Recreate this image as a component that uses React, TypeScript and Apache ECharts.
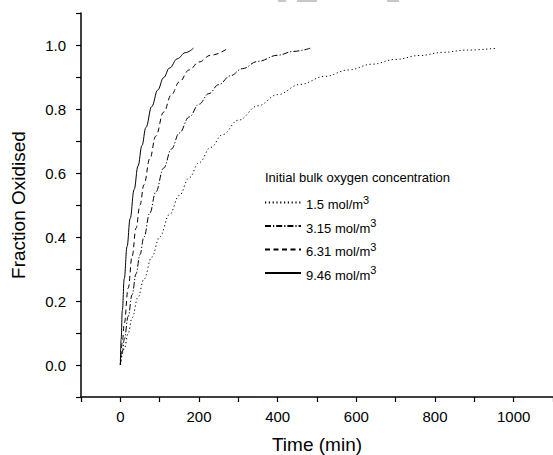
import React, { useEffect, useRef } from "react";
import * as echarts from "echarts";

const seriesNames = ["1.5", "3.15", "6.31", "9.46"];
const lineTypes: (number[] | string)[] = [[1.2, 2.6], [6, 2, 1.2, 2], [5, 3.5], "solid"];

const data15: [number, number][] = [
  [0, 0], [10, 0.05], [20, 0.1], [30, 0.148], [45, 0.212], [60, 0.268], [80, 0.337], [100, 0.4],
  [125, 0.47], [150, 0.53], [175, 0.585], [200, 0.632], [230, 0.68], [260, 0.72], [300, 0.765],
  [350, 0.81], [400, 0.845], [457, 0.877], [520, 0.902], [580, 0.922], [640, 0.94], [700, 0.955],
  [760, 0.967], [820, 0.977], [880, 0.984], [958, 0.99],
];
const data315: [number, number][] = [
  [0, 0], [5, 0.04], [10, 0.08], [20, 0.152], [30, 0.22], [40, 0.285], [50, 0.345], [60, 0.4],
  [75, 0.475], [90, 0.54], [110, 0.615], [130, 0.675], [150, 0.725], [175, 0.775], [200, 0.815],
  [225, 0.848], [250, 0.876], [280, 0.904], [310, 0.926], [350, 0.949], [400, 0.968], [440, 0.98],
  [483, 0.99],
];
const data631: [number, number][] = [
  [0, 0], [5, 0.07], [10, 0.13], [20, 0.24], [30, 0.34], [40, 0.428], [50, 0.5], [60, 0.563],
  [75, 0.645], [90, 0.715], [110, 0.79], [130, 0.845], [150, 0.885], [175, 0.922], [200, 0.947],
  [230, 0.968], [274, 0.99],
];
const data946: [number, number][] = [
  [0, 0], [2, 0.08], [5, 0.17], [10, 0.27], [17, 0.37], [25, 0.458], [35, 0.548], [45, 0.622],
  [55, 0.686], [65, 0.742], [80, 0.808], [95, 0.859], [110, 0.898], [125, 0.928], [145, 0.957],
  [165, 0.976], [186, 0.99],
];
const allData = [data15, data315, data631, data946];

const xTickLabels = ["0", "200", "400", "600", "800", "1000"];
const yTickLabels = ["0.0", "0.2", "0.4", "0.6", "0.8", "1.0"];

const FONT = "'Liberation Sans', Arial, sans-serif";

export default function App() {
  const ref = useRef<HTMLDivElement>(null);
  useEffect(() => {
    document.body.style.margin = "0";
    if (!ref.current) return;
    const chart = echarts.init(ref.current, null, { renderer: "svg" });
    chart.setOption({
      animation: false,
      textStyle: { fontFamily: FONT, color: "#000" },
      grid: { left: 81, right: 0, top: 13, bottom: 58, containLabel: false, outerBoundsMode: "none" },
      title: {
        text: "Initial bulk oxygen concentration",
        left: 260,
        top: 166,
        textStyle: { fontFamily: FONT, fontSize: 13, fontWeight: "normal", color: "#000" },
      },
      legend: {
        orient: "vertical",
        left: 259,
        top: 189,
        itemWidth: 36,
        itemHeight: 14,
        itemGap: 6.5,
        data: seriesNames,
        itemStyle: { opacity: 0, borderWidth: 0 },
        formatter: (name: string) => `{n|${name} mol/m}{sup|3}`,
        textStyle: {
          fontFamily: FONT,
          color: "#000",
          rich: {
            n: { fontSize: 13, fontFamily: FONT, color: "#000", lineHeight: 17, verticalAlign: "bottom" },
            sup: { fontSize: 11, fontFamily: FONT, color: "#000", lineHeight: 17, verticalAlign: "top" },
          },
        },
      },
      xAxis: {
        type: "value",
        min: -100,
        max: 1100,
        interval: 100,
        name: "Time (min)",
        nameLocation: "middle",
        nameGap: 38,
        nameTextStyle: { fontFamily: FONT, fontSize: 19, color: "#000" },
        axisLine: { show: true, onZero: false, lineStyle: { color: "#000", width: 1.5 } },
        axisTick: { show: true, length: 5, lineStyle: { color: "#000", width: 1.2 } },
        axisLabel: {
          fontFamily: FONT,
          fontSize: 15,
          color: "#000",
          margin: 12,
          formatter: (v: number) => {
            const s = String(Math.round(v));
            return xTickLabels.includes(s) ? s : "";
          },
        },
        splitLine: { show: false },
      },
      yAxis: {
        type: "value",
        min: -0.1,
        max: 1.1,
        interval: 0.1,
        name: "Fraction Oxidised",
        nameLocation: "middle",
        nameGap: 53,
        nameTextStyle: { fontFamily: FONT, fontSize: 19, color: "#000" },
        axisLine: { show: true, onZero: false, lineStyle: { color: "#000", width: 1.5 } },
        axisTick: { show: true, length: 5, lineStyle: { color: "#000", width: 1.2 } },
        axisLabel: {
          fontFamily: FONT,
          fontSize: 15,
          color: "#000",
          margin: 15,
          formatter: (v: number) => {
            const s = (Math.round(v * 10) / 10).toFixed(1);
            return yTickLabels.includes(s) ? s : "";
          },
        },
        splitLine: { show: false },
      },
      graphic: [
        { type: "rect", shape: { x: 278, y: 0, width: 8, height: 2 }, style: { fill: "#c8c8c8" } },
        { type: "rect", shape: { x: 297, y: 0, width: 20, height: 2 }, style: { fill: "#c8c8c8" } },
        { type: "rect", shape: { x: 387, y: 0, width: 12, height: 2 }, style: { fill: "#c8c8c8" } },
      ],
      series: seriesNames.map((name, i) => ({
        name,
        type: "line",
        data: allData[i],
        showSymbol: false,
        symbol: "none",
        smooth: 0.4,
        smoothMonotone: "x",
        lineStyle: { color: "#000", width: 1, type: lineTypes[i] },
        itemStyle: { color: "#000" },
      })),
    });
    return () => chart.dispose();
  }, []);
  return <div ref={ref} style={{ width: 553, height: 455 }} />;
}
